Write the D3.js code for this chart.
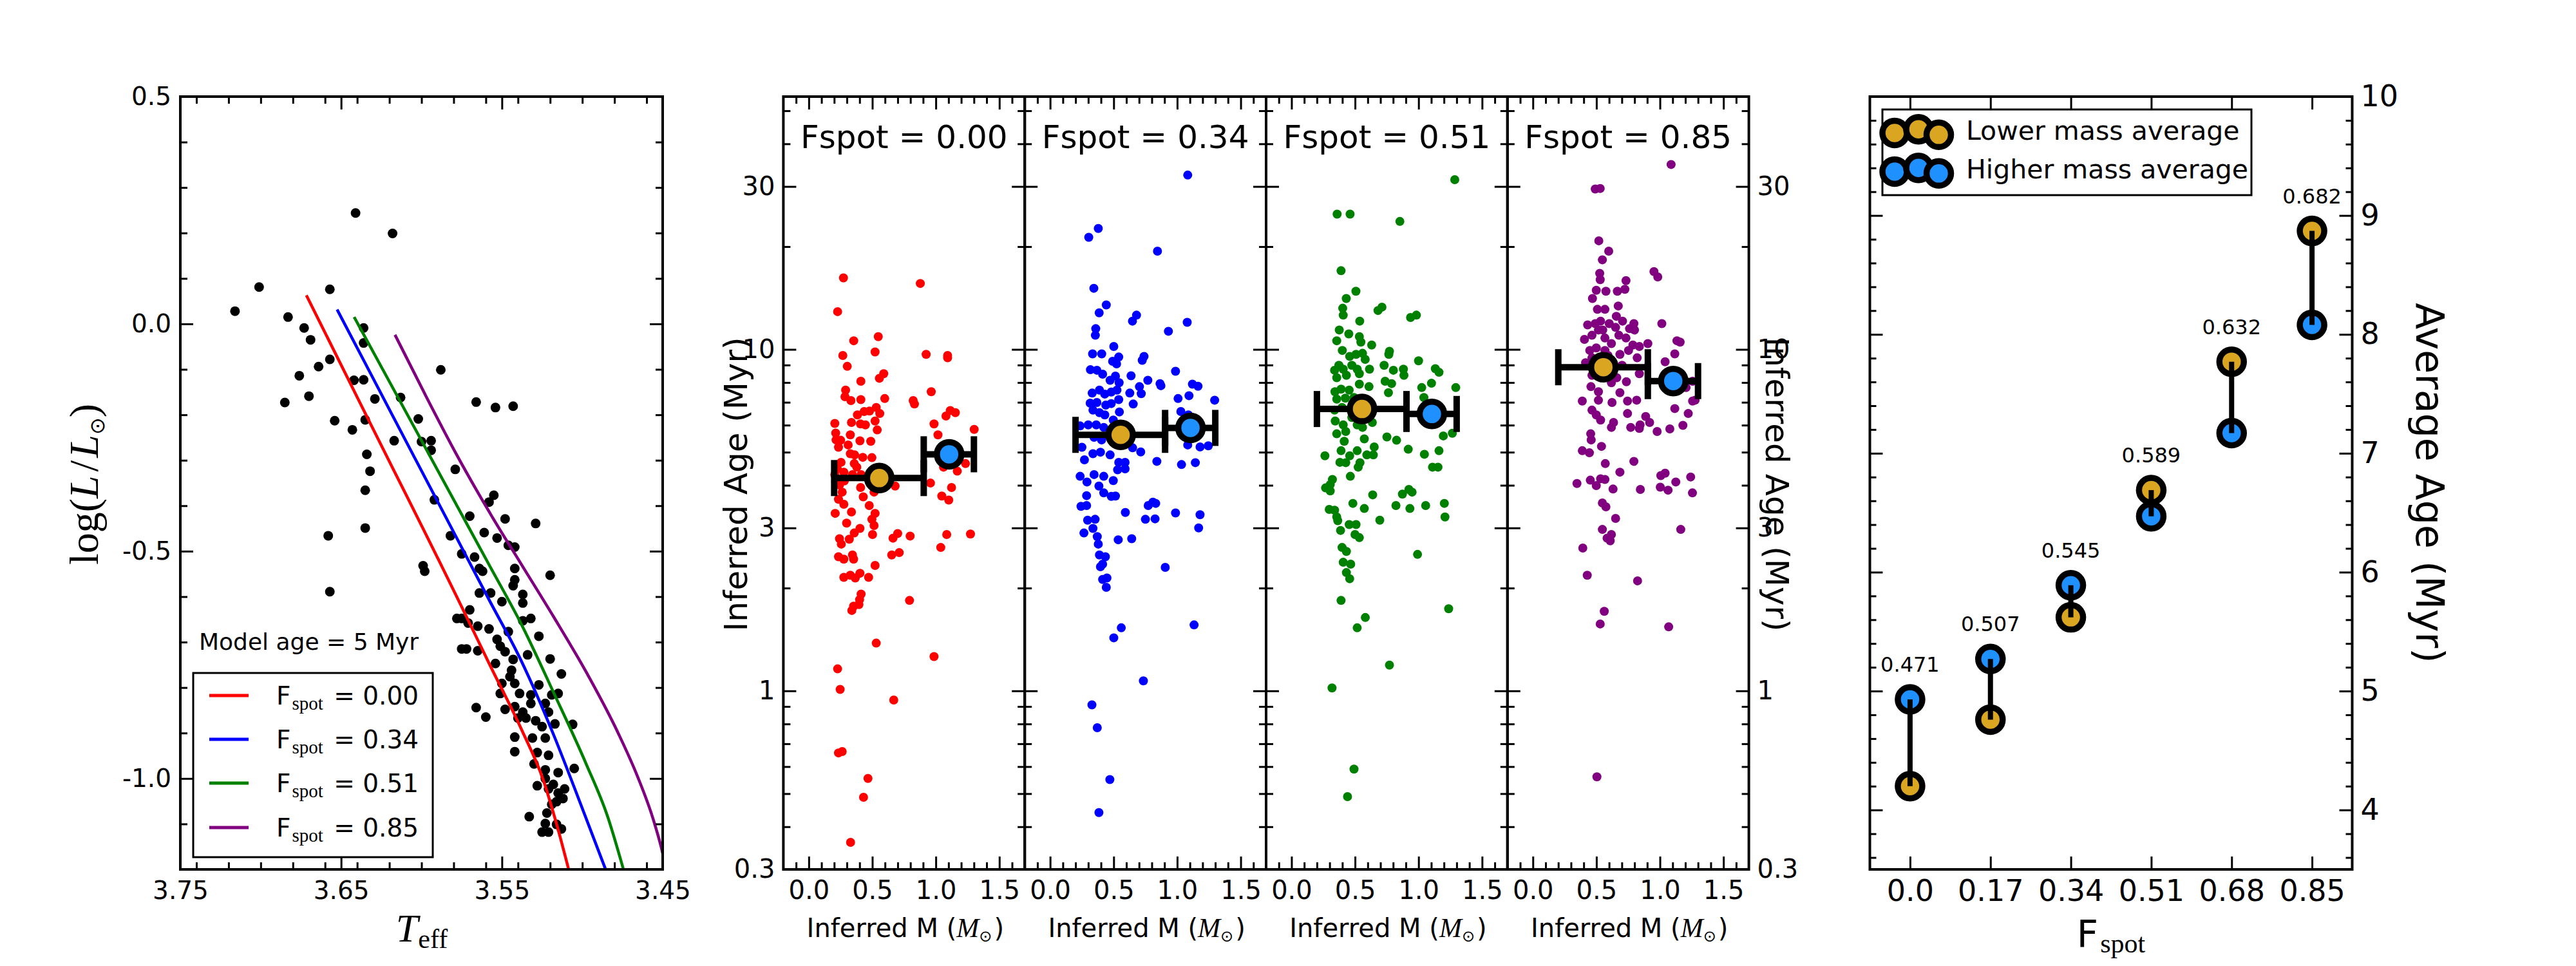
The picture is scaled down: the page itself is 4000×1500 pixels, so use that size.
<!DOCTYPE html>
<html><head><meta charset="utf-8">
<script src="https://cdn.jsdelivr.net/npm/d3@7"></script>
<style>body{margin:0;background:#fff}</style>
</head><body>
<svg id="chart" width="4000" height="1500"></svg>
<script>
// ---------------- DATA ----------------
// HR diagram stars: [log Teff, log(L/Lsun)]
const hrStars = [[3.716,0.028],[3.701,0.081],[3.641,0.244],[3.618,0.199],[3.683,0.015],[3.673,-0.009],[3.669,-0.035],[3.657,0.076],[3.657,-0.078],[3.664,-0.094],[3.676,-0.114],[3.670,-0.159],[3.685,-0.173],[3.654,-0.213],[3.642,-0.124],[3.636,-0.123],[3.636,-0.042],[3.636,-0.009],[3.629,-0.165],[3.635,-0.211],[3.643,-0.233],[3.617,-0.257],[3.634,-0.287],[3.632,-0.324],[3.635,-0.366],[3.635,-0.449],[3.658,-0.466],[3.657,-0.589],[3.613,-0.162],[3.602,-0.209],[3.600,-0.259],[3.594,-0.257],[3.594,-0.278],[3.588,-0.101],[3.566,-0.172],[3.554,-0.184],[3.543,-0.181],[3.579,-0.320],[3.592,-0.387],[3.558,-0.392],[3.555,-0.377],[3.570,-0.423],[3.548,-0.429],[3.529,-0.439],[3.561,-0.459],[3.553,-0.471],[3.546,-0.487],[3.542,-0.491],[3.582,-0.466],[3.575,-0.506],[3.567,-0.513],[3.564,-0.538],[3.562,-0.544],[3.520,-0.553],[3.599,-0.532],[3.598,-0.544],[3.542,-0.538],[3.543,-0.576],[3.542,-0.563],[3.564,-0.592],[3.557,-0.592],[3.537,-0.595],[3.537,-0.614],[3.550,-0.611],[3.570,-0.629],[3.575,-0.648],[3.571,-0.658],[3.578,-0.648],[3.565,-0.665],[3.537,-0.653],[3.532,-0.648],[3.558,-0.671],[3.546,-0.677],[3.553,-0.694],[3.551,-0.709],[3.527,-0.687],[3.575,-0.715],[3.572,-0.715],[3.565,-0.719],[3.548,-0.721],[3.534,-0.728],[3.543,-0.738],[3.520,-0.737],[3.544,-0.762],[3.554,-0.747],[3.545,-0.776],[3.513,-0.770],[3.550,-0.791],[3.542,-0.791],[3.527,-0.794],[3.551,-0.813],[3.539,-0.813],[3.532,-0.816],[3.519,-0.816],[3.515,-0.813],[3.532,-0.835],[3.548,-0.848],[3.542,-0.842],[3.537,-0.854],[3.523,-0.835],[3.535,-0.867],[3.540,-0.867],[3.521,-0.854],[3.566,-0.844],[3.560,-0.865],[3.529,-0.873],[3.525,-0.886],[3.542,-0.909],[3.531,-0.911],[3.523,-0.911],[3.517,-0.880],[3.506,-0.881],[3.542,-0.941],[3.528,-0.943],[3.521,-0.949],[3.530,-0.968],[3.523,-0.981],[3.515,-0.987],[3.505,-0.978],[3.523,-1.000],[3.518,-1.013],[3.528,-1.016],[3.521,-1.023],[3.515,-1.032],[3.511,-1.023],[3.516,-1.051],[3.512,-1.044],[3.519,-1.057],[3.522,-1.076],[3.533,-1.084],[3.523,-1.099],[3.516,-1.101],[3.513,-1.111],[3.525,-1.118],[3.521,-1.118]];

// 5 Myr isochrones for each spot fraction: [log Teff, log L]
const iso00 = [[3.6716,0.063],[3.6379,-0.176],[3.6178,-0.318],[3.5978,-0.459],[3.5898,-0.516],[3.5778,-0.602],[3.5578,-0.748],[3.5377,-0.893],[3.5244,-1.002],[3.5164,-1.095],[3.5084,-1.201]];
const iso34 = [[3.6525,0.0316],[3.6379,-0.067],[3.6178,-0.203],[3.5978,-0.338],[3.5778,-0.473],[3.5578,-0.608],[3.5377,-0.743],[3.5177,-0.905],[3.5044,-1.025],[3.4855,-1.200]];
const iso51 = [[3.6419,0.0152],[3.6178,-0.141],[3.5978,-0.271],[3.5778,-0.401],[3.5578,-0.531],[3.5377,-0.662],[3.5177,-0.812],[3.4977,-0.967],[3.4844,-1.082],[3.4744,-1.200]];
const iso85 = [[3.6165,-0.024],[3.5978,-0.155],[3.5778,-0.290],[3.5578,-0.414],[3.5377,-0.530],[3.5177,-0.645],[3.4977,-0.765],[3.4777,-0.900],[3.4657,-0.995],[3.4563,-1.085],[3.4510,-1.150],[3.4460,-1.230]];
const isoLegendLabels = ["0.00","0.34","0.51","0.85"];

// Inferred [mass, age Myr] per spot fraction
const inferred00 = [[0.273,16.2],[0.878,15.6],[0.227,12.9],[0.354,10.6],[0.547,10.9],[0.268,9.6],[0.522,9.83],[0.924,9.67],[1.093,9.6],[1.093,9.45],[0.303,8.92],[0.590,8.49],[0.556,8.23],[0.410,8.07],[0.964,7.52],[0.290,7.60],[0.285,7.27],[0.332,7.08],[0.410,7.13],[0.598,7.18],[0.822,7.08],[0.832,6.92],[0.205,6.07],[0.383,6.43],[0.436,6.58],[0.478,6.60],[0.531,6.76],[0.559,6.49],[0.336,6.11],[0.407,6.05],[0.446,6.01],[0.522,6.17],[0.539,5.81],[0.986,6.05],[1.080,6.38],[1.114,6.62],[1.154,6.53],[1.302,5.83],[1.017,5.62],[0.212,5.69],[0.215,5.43],[0.251,5.42],[0.327,5.62],[0.403,5.40],[0.488,5.38],[0.234,5.17],[0.327,4.95],[0.361,4.91],[0.425,4.83],[0.497,4.82],[0.254,4.67],[0.358,4.63],[0.225,4.47],[0.276,4.37],[0.344,4.30],[0.412,4.30],[0.280,4.12],[0.408,3.94],[0.514,3.82],[0.680,3.98],[0.958,4.06],[1.234,4.63],[1.169,4.40],[1.061,4.52],[1.124,3.94],[1.047,3.72],[1.102,3.62],[0.212,4.09],[0.263,3.82],[0.234,3.64],[0.276,3.52],[0.208,3.31],[0.336,3.34],[0.429,3.70],[0.476,3.49],[0.522,3.31],[0.497,3.18],[0.514,3.05],[0.298,3.10],[0.403,2.99],[0.358,2.90],[0.502,2.87],[0.663,2.80],[0.700,2.89],[0.798,2.84],[1.086,2.87],[1.273,2.88],[1.039,2.63],[0.242,2.79],[0.256,2.69],[0.319,2.78],[0.234,2.47],[0.276,2.43],[0.344,2.50],[0.353,2.43],[0.522,2.33],[0.653,2.50],[0.712,2.54],[0.276,2.15],[0.327,2.18],[0.366,2.14],[0.403,2.21],[0.471,2.15],[0.412,1.92],[0.400,1.85],[0.395,1.79],[0.353,1.77],[0.339,1.72],[0.793,1.84],[0.531,1.38],[0.986,1.26],[0.227,1.16],[0.247,1.01],[0.669,0.94],[0.234,0.658],[0.263,0.664],[0.466,0.554],[0.431,0.488],[0.329,0.360],[0.205,4.30],[0.242,4.01],[0.310,5.25],[0.378,4.52]];
const inferred34 = [[1.083,32.4],[0.379,22.6],[0.304,21.3],[0.845,19.4],[0.344,15.1],[0.442,13.5],[0.386,12.8],[0.648,12.1],[0.680,12.6],[1.079,12.0],[0.931,11.3],[0.359,11.5],[0.356,11.0],[0.501,10.2],[0.334,9.7],[0.406,9.7],[0.540,9.5],[0.492,9.23],[0.523,9.07],[0.739,9.54],[0.725,9.29],[0.987,8.63],[0.317,8.72],[0.368,8.69],[0.413,8.46],[0.514,8.35],[0.472,8.12],[0.543,7.99],[0.637,8.37],[0.769,8.12],[0.865,7.94],[0.872,7.83],[1.120,7.91],[1.164,7.80],[0.703,7.78],[0.717,7.42],[0.627,7.45],[0.331,7.45],[0.388,7.60],[0.430,7.40],[0.481,7.50],[0.526,7.60],[0.315,6.96],[0.368,6.99],[0.438,6.87],[0.481,6.94],[0.540,7.13],[0.654,6.92],[1.007,7.18],[1.093,7.32],[1.295,7.10],[0.337,6.64],[0.388,6.53],[0.430,6.43],[0.545,6.56],[1.029,6.58],[1.088,6.43],[0.300,6.01],[0.363,6.01],[0.422,5.91],[0.236,5.97],[0.497,6.21],[0.346,5.53],[0.405,5.43],[0.472,5.53],[0.649,5.15],[0.713,5.01],[0.250,5.17],[0.337,4.95],[0.396,5.00],[0.472,4.91],[0.540,4.67],[0.590,4.67],[0.531,4.44],[0.590,4.47],[0.270,4.75],[0.840,4.70],[1.034,4.60],[1.143,4.66],[1.083,5.25],[1.180,5.18],[1.245,5.22],[0.236,4.25],[0.290,4.09],[0.346,4.30],[0.422,4.25],[0.497,4.13],[0.384,3.98],[0.422,3.80],[0.287,3.73],[0.481,3.71],[0.514,3.72],[0.243,3.47],[0.287,3.49],[0.592,3.33],[0.750,3.18],[0.772,3.49],[0.809,3.57],[0.831,3.54],[0.826,3.19],[0.987,3.32],[1.180,3.28],[1.169,3.00],[0.295,3.16],[0.354,3.18],[0.266,2.90],[0.337,2.99],[0.371,2.83],[0.379,2.69],[0.536,2.77],[0.642,2.79],[0.388,2.50],[0.435,2.47],[0.396,2.31],[0.413,2.35],[0.906,2.30],[0.413,2.12],[0.447,2.14],[0.442,2.01],[0.560,1.53],[0.501,1.43],[1.133,1.56],[0.734,1.07],[0.329,0.91],[0.371,0.78],[0.470,0.55],[0.384,0.44]];
const inferred51 = [[1.285,31.4],[0.359,24.9],[0.461,24.9],[0.853,23.7],[0.390,17.0],[0.507,14.8],[0.431,14.1],[0.403,13.2],[0.407,12.6],[0.681,13.0],[0.712,13.3],[0.937,12.4],[0.983,12.6],[0.537,12.1],[0.376,11.4],[0.451,11.1],[0.356,10.6],[0.534,10.9],[0.546,10.5],[0.631,10.3],[0.400,9.93],[0.771,9.87],[0.766,9.67],[1.000,9.26],[0.458,9.54],[0.508,9.67],[0.559,9.74],[0.580,9.35],[0.373,8.98],[0.339,8.69],[0.407,8.75],[0.475,8.98],[0.517,8.75],[0.614,8.75],[0.729,8.98],[0.802,8.69],[0.881,8.75],[0.885,8.40],[1.132,8.78],[1.161,8.57],[0.356,8.26],[0.432,8.40],[0.534,8.49],[0.737,8.07],[0.788,7.94],[1.102,7.96],[0.342,7.52],[0.390,7.65],[0.454,7.60],[0.534,7.91],[0.610,7.78],[0.763,7.47],[1.025,7.73],[1.293,7.73],[0.356,7.15],[0.424,7.20],[0.492,7.23],[0.593,7.10],[1.042,7.23],[0.339,6.64],[0.398,6.76],[0.475,6.32],[0.344,6.17],[0.407,6.01],[0.517,6.01],[0.559,5.91],[0.636,6.11],[0.356,5.66],[0.427,5.75],[0.573,5.47],[0.751,5.54],[0.827,5.42],[1.195,5.58],[1.266,5.68],[0.263,4.88],[0.415,5.38],[0.390,5.05],[0.458,4.88],[0.517,5.05],[0.593,4.91],[0.644,4.91],[0.651,5.18],[0.919,5.10],[1.046,4.93],[1.161,5.05],[0.381,4.67],[0.427,4.66],[0.525,4.52],[0.539,4.66],[1.110,4.52],[1.153,4.52],[0.322,4.16],[0.305,4.02],[0.268,3.93],[0.305,3.85],[0.463,4.25],[0.639,3.75],[0.873,3.77],[0.924,3.89],[0.949,3.82],[0.483,3.54],[0.297,3.40],[0.339,3.38],[0.356,3.23],[0.364,3.15],[0.573,3.42],[0.695,3.16],[0.822,3.49],[0.932,3.42],[1.056,3.49],[1.203,3.54],[1.208,3.23],[0.386,2.95],[0.454,3.07],[0.508,3.07],[0.500,2.87],[0.534,2.81],[0.992,2.51],[0.398,2.63],[0.432,2.56],[0.407,2.38],[0.466,2.35],[0.432,2.22],[0.458,2.13],[0.390,1.84],[0.581,1.64],[0.517,1.53],[1.237,1.74],[0.771,1.19],[0.319,1.02],[0.492,0.59],[0.441,0.49]];
const inferred85 = [[1.088,34.8],[0.491,29.5],[0.530,29.6],[0.519,20.8],[0.597,19.4],[0.547,18.3],[0.526,16.7],[0.530,16.0],[0.953,16.9],[0.983,16.3],[0.733,15.9],[0.499,14.9],[0.575,14.8],[0.665,14.8],[0.724,15.0],[0.469,14.1],[0.508,13.1],[0.567,13.1],[0.672,13.4],[0.431,11.8],[0.491,11.9],[0.533,12.1],[0.601,11.9],[0.657,12.5],[0.706,12.1],[0.795,11.9],[0.800,11.4],[1.015,11.9],[0.406,10.7],[0.465,11.0],[0.516,11.4],[0.567,10.8],[0.618,10.4],[0.677,11.0],[0.733,10.8],[0.761,11.5],[1.134,10.6],[1.159,10.5],[0.448,9.93],[0.499,10.1],[0.567,9.93],[0.685,9.67],[0.753,9.93],[0.787,10.3],[0.838,10.2],[0.905,10.4],[1.117,9.70],[1.041,9.20],[0.415,9.14],[0.465,9.45],[0.618,9.14],[0.702,8.98],[0.821,9.45],[0.838,8.49],[0.736,8.04],[0.660,8.26],[0.457,7.78],[0.516,7.52],[0.618,7.99],[0.685,7.47],[0.745,7.06],[0.817,7.10],[0.516,7.10],[0.389,7.06],[0.623,6.99],[1.074,8.54],[1.206,7.73],[1.257,8.07],[1.257,7.06],[1.277,7.10],[1.117,6.71],[1.223,6.49],[0.465,6.64],[0.499,6.43],[0.533,6.21],[0.745,6.49],[0.888,6.36],[0.919,6.11],[0.618,5.91],[0.635,6.11],[0.770,5.91],[0.838,5.87],[0.844,6.01],[0.978,5.75],[1.078,5.85],[1.181,5.99],[0.455,5.66],[0.459,5.43],[0.389,5.05],[0.445,4.98],[0.540,5.20],[0.570,4.63],[0.795,4.70],[0.685,4.37],[0.347,4.05],[0.452,4.14],[0.533,4.18],[0.567,4.16],[0.499,3.99],[0.631,3.90],[0.846,3.89],[1.007,4.27],[1.041,4.34],[1.125,4.09],[1.242,4.23],[1.003,3.95],[1.064,3.87],[1.256,3.80],[0.547,3.55],[0.575,3.46],[0.651,3.20],[0.547,2.97],[0.618,2.87],[0.584,2.80],[0.609,2.75],[1.164,2.97],[0.393,2.62],[0.428,2.18],[0.824,2.10],[0.562,1.71],[0.530,1.57],[1.069,1.54],[0.504,0.56],[0.651,11.6],[0.550,11.4],[0.592,9.60],[0.465,8.40],[0.533,8.26]];
const panelTitles = ["Fspot = 0.00","Fspot = 0.34","Fspot = 0.51","Fspot = 0.85"];
const panelAvgIndex = [0,2,3,5];
// mass bins used for the averages (centre, low edge, high edge)
const binCentre = [0.555, 1.105];
const binLow = [0.2, 0.905];
const binHigh = [0.905, 1.30];

// Average ages
const fspotCats = ["0.0","0.17","0.34","0.51","0.68","0.85"];
const lowerAvg = [4.20,4.76,5.62,6.69,7.77,8.87];
const higherAvg = [4.93,5.27,5.89,6.47,7.17,8.08];
const ratioLabels = ["0.471","0.507","0.545","0.589","0.632","0.682"];

// tick labels
const teffTicks = [3.75,3.65,3.55,3.45];
const logLTicks = [0.5,0.0,-0.5,-1.0];
const ageTicks = [0.3,1,3,10,30];
const ageTickLabels = ["0.3","1","3","10","30"];
const ageMinor = [0.4,0.5,0.6,0.7,0.8,0.9,2,4,5,6,7,8,9,20,40,50];
const massTicks = [0,0.5,1.0,1.5];
const avgTicks = [4,5,6,7,8,9,10];

// ---------------- STYLE ----------------
const SANS = "DejaVu Sans", SERIF = "Liberation Serif";
const isoColors = ["#ff0000","#0000ff","#008000","#800080"];
const GOLD = "#daa520", DBLUE = "#1e90ff";
const TOP = 150, BOT = 1350;

const svg = d3.select("#chart");
svg.append("rect").attr("width",4000).attr("height",1500).attr("fill","#fff");

function axis(g, fn, scale, vals, size, fmt, pad, fs, tr){
  const a = fn(scale).tickValues(vals).tickSize(-size).tickPadding(pad||10)
    .tickFormat(fmt || (()=>""));
  const s = g.append("g").attr("transform", tr).call(a);
  s.select(".domain").remove();
  s.selectAll("line").attr("stroke","#000").attr("stroke-width",3);
  s.selectAll("text").attr("font-family",SANS).attr("font-size",fs||40).attr("fill","#000");
  return s;
}
const dash = f => (v => f(v).replace("\u2212","-"));

// ================= LEFT: HR diagram =================
{
  const L = 280, R = 1029;
  const x = d3.scaleLinear().domain([3.75,3.45]).range([L,R]);
  const y = d3.scaleLinear().domain([-1.2,0.5]).range([BOT,TOP]);
  const g = svg.append("g");
  g.append("clipPath").attr("id","clipL").append("rect")
    .attr("x",L).attr("y",TOP).attr("width",R-L).attr("height",BOT-TOP);
  const pg = g.append("g").attr("clip-path","url(#clipL)");
  pg.selectAll("circle").data(hrStars).enter().append("circle")
    .attr("cx",d=>x(d[0])).attr("cy",d=>y(d[1])).attr("r",7.5).attr("fill","#000");
  const line = d3.line().x(d=>x(d[0])).y(d=>y(d[1])).curve(d3.curveMonotoneX);
  [iso00,iso34,iso51,iso85].forEach((iso,i)=>{
    pg.append("path").attr("d",line(iso)).attr("fill","none")
      .attr("stroke",isoColors[i]).attr("stroke-width",4.5);
  });
  const teffMinor = d3.range(3.46,3.745,0.02);
  const lMinor = d3.range(-1.1,0.45,0.1).filter(v=>Math.abs(v*2-Math.round(v*2))>1e-6);
  const f2 = dash(d3.format(".2f")), f1 = dash(d3.format(".1f"));
  axis(g,d3.axisBottom,x,teffTicks,20,f2,18,39,`translate(0,${BOT})`);
  axis(g,d3.axisBottom,x,teffMinor,11,null,0,39,`translate(0,${BOT})`);
  axis(g,d3.axisTop,x,teffTicks,20,null,0,39,`translate(0,${TOP})`);
  axis(g,d3.axisTop,x,teffMinor,11,null,0,39,`translate(0,${TOP})`);
  axis(g,d3.axisLeft,y,logLTicks,20,f1,14,39,`translate(${L},0)`);
  axis(g,d3.axisLeft,y,lMinor,11,null,0,39,`translate(${L},0)`);
  axis(g,d3.axisRight,y,logLTicks,20,null,0,39,`translate(${R},0)`);
  axis(g,d3.axisRight,y,lMinor,11,null,0,39,`translate(${R},0)`);

  // legend
  g.append("text").attr("x",309).attr("y",1009).attr("font-family",SANS)
    .attr("font-size",36).text("Model age = 5 Myr");
  g.append("rect").attr("x",300).attr("y",1045).attr("width",372).attr("height",286)
    .attr("fill","#fff").attr("stroke","#000").attr("stroke-width",3);
  const rowY = [1080,1148,1216,1285];
  isoLegendLabels.forEach((lab,i)=>{
    g.append("line").attr("x1",325).attr("x2",386).attr("y1",rowY[i]).attr("y2",rowY[i])
      .attr("stroke",isoColors[i]).attr("stroke-width",5);
    const t = g.append("text").attr("x",429).attr("y",rowY[i]+14)
      .attr("font-family",SANS).attr("font-size",39);
    t.append("tspan").text("F");
    t.append("tspan").attr("font-family",SERIF).attr("font-size",29).attr("dy",8).attr("dx",2).text("spot");
    t.append("tspan").attr("dy",-8).attr("dx",4).text(" = "+lab);
  });
  g.append("rect").attr("x",L).attr("y",TOP).attr("width",R-L).attr("height",BOT-TOP)
    .attr("fill","none").attr("stroke","#000").attr("stroke-width",4);

  // axis labels
  const yl = g.append("text").attr("transform","translate(152,752) rotate(-90)")
    .attr("text-anchor","middle").attr("font-family",SERIF).attr("font-size",64);
  yl.append("tspan").text("log(");
  yl.append("tspan").attr("font-style","italic").text("L");
  yl.append("tspan").attr("dx",6).text("/");
  yl.append("tspan").attr("dx",4).attr("font-style","italic").text("L");
  yl.append("tspan").attr("font-family",SANS).attr("font-size",32).attr("dy",10).text("\u2299");
  yl.append("tspan").attr("dy",-10).text(")");
  const xl = g.append("text").attr("x",655).attr("y",1462).attr("text-anchor","middle")
    .attr("font-family",SERIF).attr("font-size",62);
  xl.append("tspan").attr("font-style","italic").text("T");
  xl.append("tspan").attr("font-size",42).attr("dy",10).text("eff");
}

// ================= MIDDLE: inferred ages =================
{
  const P0 = 1216.4, PW = 374.8;
  const y = d3.scaleLog().domain([0.3,55]).range([BOT,TOP]);
  const sets = [inferred00,inferred34,inferred51,inferred85];
  const fm = dash(d3.format(".1f"));
  const massMinor = d3.range(-0.1,1.65,0.1).filter(v=>Math.abs(v*2-Math.round(v*2))>1e-6);
  const ageFmt = v => ageTickLabels[ageTicks.indexOf(v)];
  sets.forEach((data,i)=>{
    const L = P0 + i*PW, R = L + PW;
    const x = d3.scaleLinear().domain([-0.2,1.7]).range([L,R]);
    const g = svg.append("g");
    g.append("clipPath").attr("id","clipM"+i).append("rect")
      .attr("x",L).attr("y",TOP).attr("width",PW).attr("height",BOT-TOP);
    const pg = g.append("g").attr("clip-path",`url(#clipM${i})`);
    pg.selectAll("circle.pt").data(data).enter().append("circle").attr("class","pt")
      .attr("cx",d=>x(d[0])).attr("cy",d=>y(d[1])).attr("r",7).attr("fill",isoColors[i]);
    const k = panelAvgIndex[i];
    const avgs = [lowerAvg[k], higherAvg[k]];
    const fills = [GOLD, DBLUE];
    avgs.forEach((a,j)=>{
      const yy = y(a);
      pg.append("line").attr("x1",x(binLow[j])).attr("x2",x(binHigh[j]))
        .attr("y1",yy).attr("y2",yy).attr("stroke","#000").attr("stroke-width",10);
      [binLow[j],binHigh[j]].forEach(e=>{
        pg.append("line").attr("x1",x(e)).attr("x2",x(e)).attr("y1",yy-28).attr("y2",yy+28)
          .attr("stroke","#000").attr("stroke-width",10);
      });
    });
    avgs.forEach((a,j)=>{
      pg.append("circle").attr("cx",x(binCentre[j])).attr("cy",y(a)).attr("r",19)
        .attr("fill",fills[j]).attr("stroke","#000").attr("stroke-width",9.5);
    });
    axis(g,d3.axisBottom,x,massTicks,20,fm,18,40,`translate(0,${BOT})`);
    axis(g,d3.axisBottom,x,massMinor,11,null,0,40,`translate(0,${BOT})`);
    axis(g,d3.axisTop,x,massTicks,20,null,0,40,`translate(0,${TOP})`);
    axis(g,d3.axisTop,x,massMinor,11,null,0,40,`translate(0,${TOP})`);
    axis(g,d3.axisLeft,y,ageTicks,20,i===0?ageFmt:null,13,40,`translate(${L},0)`);
    axis(g,d3.axisLeft,y,ageMinor,11,null,0,40,`translate(${L},0)`);
    axis(g,d3.axisRight,y,ageTicks,20,i===3?ageFmt:null,13,40,`translate(${R},0)`);
    axis(g,d3.axisRight,y,ageMinor,11,null,0,40,`translate(${R},0)`);
    g.append("rect").attr("x",L).attr("y",TOP).attr("width",PW).attr("height",BOT-TOP)
      .attr("fill","none").attr("stroke","#000").attr("stroke-width",4);
    g.append("text").attr("x",(L+R)/2).attr("y",230).attr("text-anchor","middle")
      .attr("font-family",SANS).attr("font-size",50).text(panelTitles[i]);
    const xl = g.append("text").attr("x",(L+R)/2+2).attr("y",1455).attr("text-anchor","middle")
      .attr("font-family",SANS).attr("font-size",40);
    xl.append("tspan").text("Inferred M (");
    xl.append("tspan").attr("font-family",SERIF).attr("font-style","italic").attr("font-size",42).text("M");
    xl.append("tspan").attr("font-size",24).attr("dy",7).text("\u2299");
    xl.append("tspan").attr("dy",-7).attr("dx",3).text(")");
  });
  svg.append("text").attr("transform","translate(1160,752) rotate(-90)")
    .attr("text-anchor","middle").attr("font-family",SANS).attr("font-size",50)
    .text("Inferred Age (Myr)");
  svg.append("text").attr("transform","translate(2742,752) rotate(90)")
    .attr("text-anchor","middle").attr("font-family",SANS).attr("font-size",50)
    .text("Inferred Age (Myr)");
}

// ================= RIGHT: average ages =================
{
  const L = 2903.5, R = 3652.5;
  const x = d3.scaleLinear().domain([-0.5,5.5]).range([L,R]);
  const y = d3.scaleLinear().domain([3.5,10]).range([BOT,TOP]);
  const g = svg.append("g");
  const idx = fspotCats.map((c,i)=>i);
  const yMinor = d3.range(3.6,9.95,0.2).filter(v=>Math.abs(v-Math.round(v))>1e-6);
  axis(g,d3.axisBottom,x,idx,20,i=>fspotCats[i],16,46,`translate(0,${BOT})`);
  axis(g,d3.axisTop,x,idx,20,null,0,46,`translate(0,${TOP})`);
  axis(g,d3.axisLeft,y,avgTicks,20,null,0,46,`translate(${L},0)`);
  axis(g,d3.axisLeft,y,yMinor,10,null,0,46,`translate(${L},0)`);
  axis(g,d3.axisRight,y,avgTicks,20,d3.format("d"),13,46,`translate(${R},0)`);
  axis(g,d3.axisRight,y,yMinor,10,null,0,46,`translate(${R},0)`);

  idx.forEach(i=>{
    g.append("circle").attr("cx",x(i)).attr("cy",y(lowerAvg[i])).attr("r",19)
      .attr("fill",GOLD).attr("stroke","#000").attr("stroke-width",9.5);
    g.append("circle").attr("cx",x(i)).attr("cy",y(higherAvg[i])).attr("r",19)
      .attr("fill",DBLUE).attr("stroke","#000").attr("stroke-width",9.5);
  });
  idx.forEach(i=>{
    g.append("line").attr("x1",x(i)).attr("x2",x(i))
      .attr("y1",y(lowerAvg[i])).attr("y2",y(higherAvg[i]))
      .attr("stroke","#000").attr("stroke-width",8);
    g.append("text").attr("x",x(i)).attr("y",y(Math.max(lowerAvg[i],higherAvg[i]))-43)
      .attr("text-anchor","middle").attr("font-family",SANS).attr("font-size",32)
      .text(ratioLabels[i]);
  });
  // legend
  g.append("rect").attr("x",2923).attr("y",170).attr("width",573).attr("height",133)
    .attr("fill","#fff").attr("stroke","#000").attr("stroke-width",3);
  const lx = [2942,2979,3010.5], ly = [3.5,-2.3,6.3];
  [[203,GOLD,"Lower mass average"],[263,DBLUE,"Higher mass average"]].forEach(r=>{
    lx.forEach((xx,j)=>{
      g.append("circle").attr("cx",xx).attr("cy",r[0]+ly[j]).attr("r",19)
        .attr("fill",r[1]).attr("stroke","#000").attr("stroke-width",9.5);
    });
    g.append("text").attr("x",3053).attr("y",r[0]+14).attr("font-family",SANS)
      .attr("font-size",41).text(r[2]);
  });
  g.append("rect").attr("x",L).attr("y",TOP).attr("width",R-L).attr("height",BOT-TOP)
    .attr("fill","none").attr("stroke","#000").attr("stroke-width",4);
  const xl = g.append("text").attr("x",(L+R)/2).attr("y",1471).attr("text-anchor","middle")
    .attr("font-family",SANS).attr("font-size",58);
  xl.append("tspan").text("F");
  xl.append("tspan").attr("font-family",SERIF).attr("font-size",42).attr("dy",8).attr("dx",3).text("spot");
  g.append("text").attr("transform","translate(3752,750) rotate(90)")
    .attr("text-anchor","middle").attr("font-family",SANS).attr("font-size",60)
    .text("Average Age (Myr)");
}
</script>
</body></html>
